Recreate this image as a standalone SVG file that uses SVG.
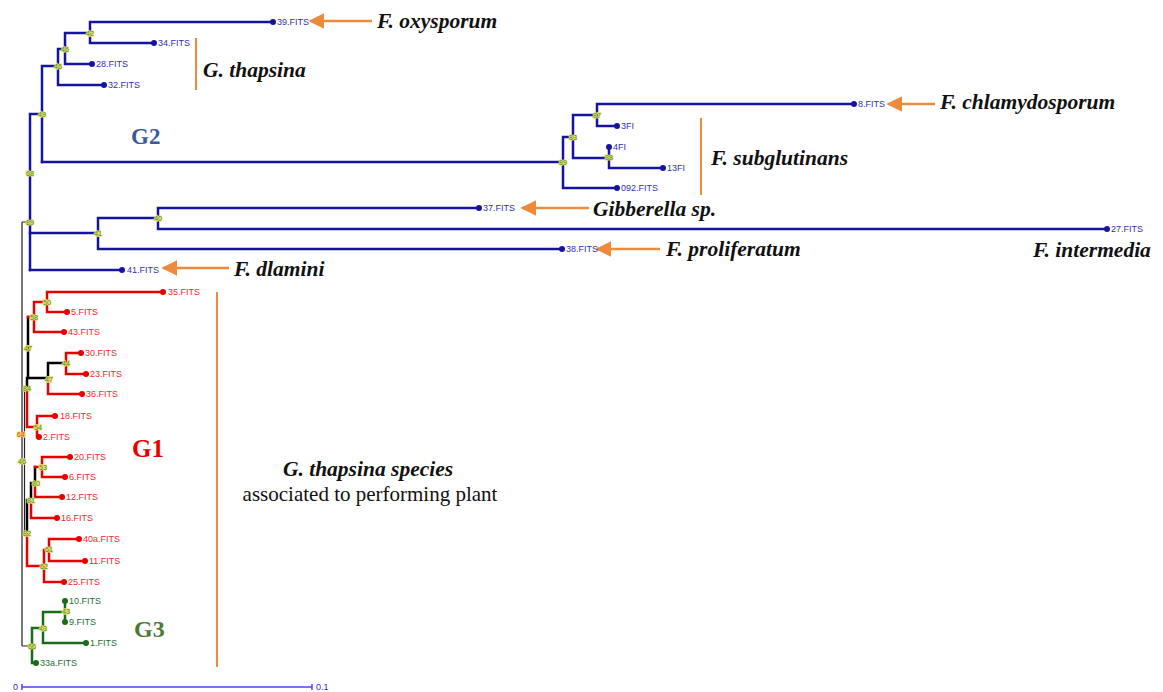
<svg xmlns="http://www.w3.org/2000/svg" width="1163" height="692" viewBox="0 0 1163 692">
  <defs>
    <style>
      .b { fill: none; stroke: #1414a0; stroke-width: 2.5; stroke-linecap: square; }
      .r { fill: none; stroke: #e60000; stroke-width: 2.5; stroke-linecap: square; }
      .g { fill: none; stroke: #1a6b1a; stroke-width: 2.5; stroke-linecap: square; }
      .k { fill: none; stroke: #222; stroke-width: 1.2; }
      .kk { fill: none; stroke: #000; stroke-width: 2.5; stroke-linecap: square; }
      .db { fill: #1414a0; }
      .dr { fill: #e60000; }
      .dg { fill: #1a6b1a; }
      .lf { font-family: "Liberation Sans", Arial, sans-serif; font-size: 9px; }
      .lb { fill: #3030b8; }
      .lr { fill: #f02a2a; }
      .lg { fill: #1f6e3a; }
      .bs { font-family: "Liberation Sans", Arial, sans-serif; font-size: 7px; fill: #3f8f3a; stroke: #efe06a; stroke-width: 1.6; paint-order: stroke; text-anchor: middle; }
      .sp { font-family: "Liberation Serif", "Times New Roman", serif; font-size: 21.5px; font-weight: bold; font-style: italic; fill: #111; }
      .grp { font-family: "Liberation Serif", "Times New Roman", serif; font-weight: bold; }
      .or { fill: none; stroke: #ee8a3c; stroke-width: 2.5; }
      .orb { fill: none; stroke: #ee8a3c; stroke-width: 2; }
    </style>
    <marker id="arrowhead" viewBox="0 0 10 10" refX="9" refY="5" markerWidth="16" markerHeight="16" markerUnits="userSpaceOnUse" orient="auto">
      <path d="M0,0 L10,5 L0,10 z" fill="#ee8a3c"/>
    </marker>
  </defs>

  <rect width="1163" height="692" fill="#fff"/>

  <!-- connectors: tree branches -->
  <g id="connectors">
    <!-- root spine -->
    <path class="k" d="M22,222 V646 M22,222 H30 M22,646 H32 M22,461 H24"/>
    <path class="k" d="M24.5,388 V533 M24.5,388 H27 M24.5,533 H27" stroke-width="1.6"/>

    <!-- G2 clade (blue) -->
    <path class="b" d="M30,114 V270 M30,114 H42 M42,66 V162 M42,66 H58 M58,49 V85 M58,85 H104 M58,49 H65 M65,33 V64 M65,64 H92 M65,33 H90 M90,22 V43 M90,22 H273 M90,43 H154"/>
    <path class="b" d="M42,162 H563 M563,137 V188 M563,137 H573 M573,115 V158 M573,115 H597 M597,104 V126 M597,104 H854 M597,126 H617 M573,158 H609 M609,147 V168 M609,168 H663 M563,188 H617"/>
    <path class="b" d="M30,233 H98 M98,218 V249 M98,218 H158 M158,208 V229 M158,208 H479 M158,229 H1107 M98,249 H562 M30,270 H122"/>

    <!-- G1 clade (red, with black inner branches) -->
    <path class="kk" d="M28,317 V378 M28,378 H48 M48,363 V378 M48,363 H66 M27,378 V388"/>
    <path class="r" d="M28,317 H34 M34,302 V332 M34,302 H47 M47,292 V312 M47,292 H163 M47,312 H67 M34,332 H64"/>
    <path class="r" d="M48,378 V394 M48,394 H82 M66,353 V374 M66,353 H81 M66,374 H86"/>
    <path class="r" d="M27,388 V427 M27,427 H37 M37,416 V437 M37,416 H55"/>
    <path class="kk" d="M27,500 V533 M27,500 H31 M31,483 V500 M31,483 H35 M35,467 V483" stroke-width="2"/>
    <path class="r" d="M35,467 H42 M42,457 V477 M42,457 H70 M42,477 H65 M35,483 V497 M35,497 H62 M31,500 V518 M31,518 H57"/>
    <path class="r" d="M27,533 V566 M27,566 H44 M44,550 V582 M44,550 H49 M49,539 V561 M49,539 H79 M49,561 H85 M44,582 H64"/>

    <!-- G3 clade (green) -->
    <path class="g" d="M32,628 V663 M32,628 H43 M43,612 V643 M43,612 H65 M65,601 V622 M43,643 H86 M32,663 H36"/>

    <!-- pointer arrows -->
    <line class="or" x1="372" y1="21" x2="310" y2="21" marker-end="url(#arrowhead)"/>
    <line class="or" x1="935" y1="104" x2="888" y2="104" marker-end="url(#arrowhead)"/>
    <line class="or" x1="589" y1="208" x2="522" y2="208" marker-end="url(#arrowhead)"/>
    <line class="or" x1="660" y1="249" x2="597" y2="249" marker-end="url(#arrowhead)"/>
    <line class="or" x1="229" y1="268" x2="163" y2="268" marker-end="url(#arrowhead)"/>

    <!-- bracket bars -->
    <line class="orb" x1="196" y1="38" x2="196" y2="90"/>
    <line class="orb" x1="701" y1="118" x2="701" y2="195"/>
    <line class="orb" x1="217" y1="292" x2="217" y2="667"/>
  </g>

  <!-- G2 leaves -->
  <g id="g2-leaves">
    <circle class="db" cx="273" cy="22" r="3"/><text class="lf lb" x="277" y="25">39.FITS</text>
    <circle class="db" cx="154" cy="43" r="3"/><text class="lf lb" x="158" y="46">34.FITS</text>
    <circle class="db" cx="92" cy="64" r="3"/><text class="lf lb" x="96" y="67">28.FITS</text>
    <circle class="db" cx="104" cy="85" r="3"/><text class="lf lb" x="108" y="88">32.FITS</text>
    <circle class="db" cx="854" cy="104" r="3"/><text class="lf lb" x="858" y="107">8.FITS</text>
    <circle class="db" cx="617" cy="126" r="3"/><text class="lf lb" x="621" y="129">3FI</text>
    <circle class="db" cx="609" cy="147" r="3"/><text class="lf lb" x="613" y="150">4FI</text>
    <circle class="db" cx="663" cy="168" r="3"/><text class="lf lb" x="667" y="171">13FI</text>
    <circle class="db" cx="617" cy="188" r="3"/><text class="lf lb" x="621" y="191">092.FITS</text>
    <circle class="db" cx="479" cy="208" r="3"/><text class="lf lb" x="483" y="211">37.FITS</text>
    <circle class="db" cx="1107" cy="229" r="3"/><text class="lf lb" x="1111" y="232">27.FITS</text>
    <circle class="db" cx="562" cy="249" r="3"/><text class="lf lb" x="566" y="252">38.FITS</text>
    <circle class="db" cx="122" cy="270" r="3"/><text class="lf lb" x="127" y="273">41.FITS</text>
  </g>

  <!-- G1 leaves -->
  <g id="g1-leaves">
    <circle class="dr" cx="163" cy="292" r="3"/><text class="lf lr" x="168" y="295">35.FITS</text>
    <circle class="dr" cx="67" cy="312" r="3"/><text class="lf lr" x="71" y="315">5.FITS</text>
    <circle class="dr" cx="64" cy="332" r="3"/><text class="lf lr" x="68" y="335">43.FITS</text>
    <circle class="dr" cx="81" cy="353" r="3"/><text class="lf lr" x="85" y="356">30.FITS</text>
    <circle class="dr" cx="86" cy="374" r="3"/><text class="lf lr" x="90" y="377">23.FITS</text>
    <circle class="dr" cx="82" cy="394" r="3"/><text class="lf lr" x="86" y="397">36.FITS</text>
    <circle class="dr" cx="55" cy="416" r="3"/><text class="lf lr" x="60" y="419">18.FITS</text>
    <circle class="dr" cx="39" cy="437" r="3"/><text class="lf lr" x="43" y="440">2.FITS</text>
    <circle class="dr" cx="70" cy="457" r="3"/><text class="lf lr" x="74" y="460">20.FITS</text>
    <circle class="dr" cx="65" cy="477" r="3"/><text class="lf lr" x="69" y="480">6.FITS</text>
    <circle class="dr" cx="62" cy="497" r="3"/><text class="lf lr" x="66" y="500">12.FITS</text>
    <circle class="dr" cx="57" cy="518" r="3"/><text class="lf lr" x="61" y="521">16.FITS</text>
    <circle class="dr" cx="79" cy="539" r="3"/><text class="lf lr" x="83" y="542">40a.FITS</text>
    <circle class="dr" cx="85" cy="561" r="3"/><text class="lf lr" x="89" y="564">11.FITS</text>
    <circle class="dr" cx="64" cy="582" r="3"/><text class="lf lr" x="68" y="585">25.FITS</text>
  </g>

  <!-- G3 leaves -->
  <g id="g3-leaves">
    <circle class="dg" cx="65" cy="601" r="3"/><text class="lf lg" x="69" y="604">10.FITS</text>
    <circle class="dg" cx="65" cy="622" r="3"/><text class="lf lg" x="69" y="625">9.FITS</text>
    <circle class="dg" cx="86" cy="643" r="3"/><text class="lf lg" x="90" y="646">1.FITS</text>
    <circle class="dg" cx="36" cy="663" r="3"/><text class="lf lg" x="40" y="666">33a.FITS</text>
  </g>

  <!-- bootstrap values -->
  <g id="bootstrap">
    <text class="bs" x="90" y="36">42</text>
    <text class="bs" x="65" y="52">46</text>
    <text class="bs" x="58" y="69">46</text>
    <text class="bs" x="42" y="117">49</text>
    <text class="bs" x="30" y="176">68</text>
    <text class="bs" x="30" y="225">89</text>
    <text class="bs" x="98" y="236">41</text>
    <text class="bs" x="158" y="221">40</text>
    <text class="bs" x="563" y="165">89</text>
    <text class="bs" x="573" y="140">83</text>
    <text class="bs" x="597" y="118">87</text>
    <text class="bs" x="609" y="160">88</text>
    <text class="bs" x="47" y="305">50</text>
    <text class="bs" x="34" y="320">58</text>
    <text class="bs" x="28" y="351">47</text>
    <text class="bs" x="66" y="366">44</text>
    <text class="bs" x="49" y="382">47</text>
    <text class="bs" x="27" y="391">84</text>
    <text class="bs" x="38" y="430">54</text>
    <text class="bs" x="21" y="437" style="fill:#f03a1a">64</text>
    <text class="bs" x="22" y="464">46</text>
    <text class="bs" x="43" y="470">53</text>
    <text class="bs" x="36" y="486">80</text>
    <text class="bs" x="31" y="503">81</text>
    <text class="bs" x="27" y="536">82</text>
    <text class="bs" x="49" y="552">61</text>
    <text class="bs" x="44" y="569">62</text>
    <text class="bs" x="66" y="614">43</text>
    <text class="bs" x="43" y="631">43</text>
    <text class="bs" x="32" y="649">66</text>
  </g>

  <!-- species annotations -->
  <g id="annotations">
    <text class="sp" x="377" y="28">F. oxysporum</text>
    <text class="sp" x="203" y="77">G. thapsina</text>
    <text class="sp" x="940" y="109">F. chlamydosporum</text>
    <text class="sp" x="711" y="165">F. subglutinans</text>
    <text class="sp" x="593" y="216">Gibberella sp.</text>
    <text class="sp" x="666" y="256">F. proliferatum</text>
    <text class="sp" x="1033" y="257">F. intermedia</text>
    <text class="sp" x="234" y="276">F. dlamini</text>
    <text class="sp" x="368" y="476" text-anchor="middle" font-size="21">G. thapsina species</text>
    <text x="370" y="501" text-anchor="middle" font-family="Liberation Serif, Times New Roman, serif" font-size="21" fill="#111">associated to performing plant</text>
  </g>

  <!-- group labels -->
  <g id="groups">
    <text class="grp" x="131" y="144" font-size="23" fill="#3a5a9a">G2</text>
    <text class="grp" x="132" y="457" font-size="25" fill="#e60000">G1</text>
    <text class="grp" x="134" y="637" font-size="24" fill="#4a7a34">G3</text>
  </g>

  <!-- scale bar -->
  <g id="scale">
    <path d="M22,687 H312 M22,684 V690 M312,684 V690" fill="none" stroke="#4848ee" stroke-width="1.5"/>
    <text x="13" y="690" font-family="Liberation Sans, Arial, sans-serif" font-size="9" fill="#3030b8">0</text>
    <text x="316" y="690" font-family="Liberation Sans, Arial, sans-serif" font-size="9" fill="#3030b8">0.1</text>
  </g>
</svg>
